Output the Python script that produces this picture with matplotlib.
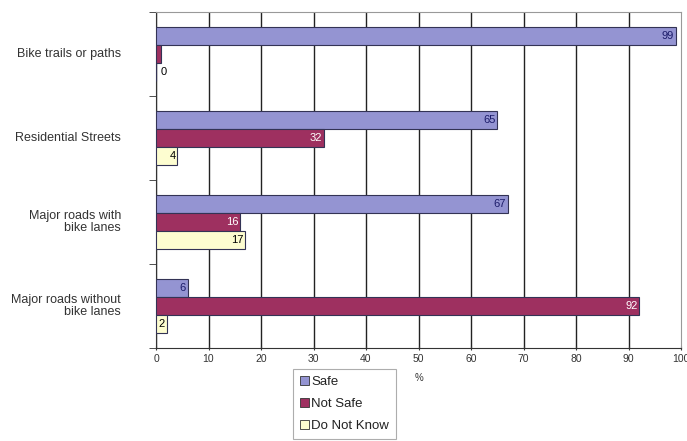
import matplotlib
matplotlib.use("Agg")
import matplotlib.pyplot as plt
import numpy as np
from matplotlib.patches import Patch

categories = ["Bike trails or paths", "Residential Streets",
              "Major roads with\nbike lanes", "Major roads without\nbike lanes"]
series_names = ["Safe", "Not Safe", "Do Not Know"]
safe = [99, 65, 67, 6]
not_safe = [1, 32, 16, 92]
dont_know = [0, 4, 17, 2]
xticks = [0, 10, 20, 30, 40, 50, 60, 70, 80, 90, 100]

colors = ["#9494d2", "#9e3060", "#fdfdd0"]
label_colors = ["#1c1c6a", "white", "black"]

plt.rcParams['font.family'] = ['Liberation Sans', 'DejaVu Sans']

fig = plt.figure(figsize=(6.87, 4.41), dpi=100)
ax = fig.add_axes([156/687, 1-348/441, (681-156)/687, (348-12)/441])

n = len(categories)
y0 = np.arange(n)
bh = 0.215
offsets = [-bh, 0, bh]
data = [safe, not_safe, dont_know]

ax.set_xlim(0, 100)
ax.set_ylim(n - 0.5, -0.5)

for xv in xticks[:-1]:
    ax.axvline(xv, color="#222222", lw=1.0, zorder=1)

for s, (vals, off, c, lc) in enumerate(zip(data, offsets, colors, label_colors)):
    ys = y0 + off
    ax.barh(ys, vals, height=bh, color=c, edgecolor="#333355", lw=0.8, zorder=3)
    for yy, v in zip(ys, vals):
        if v == 1:
            continue
        if v == 0:
            ax.text(0.9, yy, str(v), ha="left", va="center", fontsize=8, color="black", zorder=4)
        else:
            ax.text(v - 0.3, yy, str(v), ha="right", va="center", fontsize=8, color=lc, zorder=4)

# category labels, right-aligned on every line
ax.set_yticks(y0)
ax.set_yticklabels([])
ax.tick_params(axis="y", length=0)
ytrans = ax.get_yaxis_transform()
for yy, lab in zip(y0, categories):
    ax.text(-35/525, yy, lab, transform=ytrans, ha="right", va="center",
            multialignment="right", fontsize=9, color="#333333", linespacing=1.1)
ax.set_yticks(np.arange(-0.5, n, 1), minor=True)
ax.tick_params(axis="y", which="minor", length=5, direction="out", color="#333333")

ax.set_xticks(xticks)
ax.set_xticklabels([str(t) for t in xticks], fontsize=7.5, color="#333333")
ax.tick_params(axis="x", length=3, direction="inout", color="#333333", pad=3)

for side in ["top", "right"]:
    ax.spines[side].set_color("#999999")
    ax.spines[side].set_linewidth(0.8)
ax.spines["left"].set_color("#333333")
ax.spines["bottom"].set_color("#333333")

fig.text(415/687, 1-378/441, "%", fontsize=7, color="#333333", ha="left", va="center")

handles = [Patch(facecolor=c, edgecolor="#333333", lw=0.6) for c in colors]
leg = fig.legend(handles, series_names, loc="upper left",
                 bbox_to_anchor=(293/687, 1-369/441), fontsize=9.5,
                 frameon=True, fancybox=False, edgecolor="#999999",
                 handlelength=0.7, handleheight=0.7, handletextpad=0.2,
                 labelspacing=0.75, borderpad=0.5, borderaxespad=0)
leg.get_frame().set_linewidth(0.8)
for t in leg.get_texts():
    t.set_color("#222222")

fig.savefig("out.png", dpi=100)
